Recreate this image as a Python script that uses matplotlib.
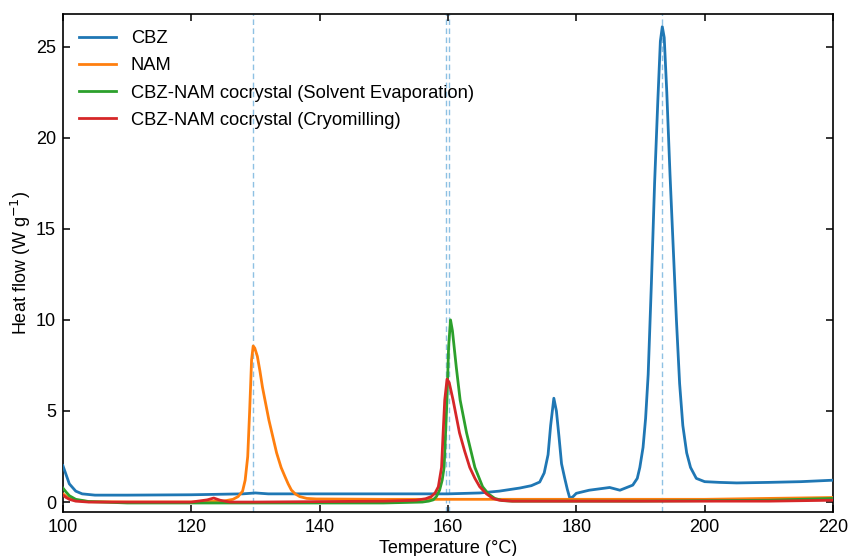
import matplotlib
matplotlib.use("Agg")
import matplotlib.pyplot as plt

plt.rcParams['font.family'] = ['Liberation Sans', 'DejaVu Sans']

# Temperature (°C) / heat flow (W/g) points
cbz_T = [100, 100.5, 101, 102, 103, 105, 110, 120, 128, 130, 132, 140, 150, 160, 165, 168, 171.2, 173,
         174.3, 175.0, 175.6, 176.0, 176.5, 176.9, 177.3, 177.7, 178.2, 178.6, 179.0, 179.5, 180.0,
         182, 185.2, 186.8, 188.8, 189.5, 189.9, 190.4, 190.8, 191.2, 191.7, 192.2, 192.7,
         193.1, 193.4, 193.7, 194.1, 194.6, 195.1, 195.6, 196.1, 196.6, 197.2, 197.8, 198.7, 200,
         202.3, 205, 210, 215, 220]
cbz_v = [2.0, 1.5, 1.0, 0.6, 0.45, 0.38, 0.38, 0.4, 0.45, 0.5, 0.45, 0.45, 0.45, 0.45, 0.5, 0.6, 0.77, 0.9,
         1.1, 1.6, 2.6, 4.2, 5.7, 5.0, 3.6, 2.1, 1.3, 0.7, 0.2, 0.3, 0.48,
         0.65, 0.8, 0.65, 0.93, 1.3, 1.9, 3.0, 4.6, 7.0, 12.0, 17.5, 22.0,
         25.3, 26.1, 25.5, 22.5, 18.0, 14.0, 10.0, 6.5, 4.2, 2.7, 1.9, 1.3, 1.12,
         1.08, 1.05, 1.08, 1.12, 1.2]

nam_T = [100, 101, 102, 104, 110, 120, 125, 126.5, 127.3, 128.0, 128.4, 128.8, 129.1, 129.4, 129.65,
         129.9, 130.3, 130.7, 131.1, 132.1, 133.3, 134.0, 134.6, 135.1, 135.6, 136.2, 136.9, 138, 139.5,
         150, 170, 200, 220]
nam_v = [0.45, 0.2, 0.1, 0.02, 0.0, 0.0, 0.05, 0.15, 0.3, 0.6, 1.2, 2.5, 5.0, 7.8, 8.57,
         8.45, 8.0, 7.2, 6.3, 4.5, 2.7, 1.9, 1.4, 1.0, 0.66, 0.45, 0.3, 0.2, 0.17,
         0.15, 0.15, 0.15, 0.25]

se_T = [100, 100.5, 101, 102, 104, 110, 130, 150, 156, 157.0, 157.7, 158.2, 158.7, 159.1, 159.4,
        159.85, 160.1, 160.4, 160.7, 161.3, 161.9, 162.9, 164.2, 165.4, 166.3, 167.3, 168.5, 170,
        190, 210, 220]
se_v = [0.77, 0.55, 0.35, 0.15, 0.03, -0.05, -0.05, -0.05, 0.0, 0.05, 0.12, 0.3, 0.66, 1.2, 1.9,
        5.6, 8.5, 10.0, 9.4, 7.4, 5.6, 3.8, 1.9, 0.84, 0.45, 0.2, 0.08, 0.05,
        0.05, 0.1, 0.2]

cryo_T = [100, 100.5, 101, 102, 104, 110, 120, 122.5, 123.5, 124.5, 126, 130, 150, 155, 156.5, 157.4,
          158.0, 158.5, 159.0, 159.25, 159.5, 159.86, 160.2, 160.8, 161.8, 162.6, 163.4, 164.2,
          164.95, 166, 167, 168, 170, 190, 210, 220]
cryo_v = [0.38, 0.25, 0.15, 0.05, 0.0, 0.0, 0.0, 0.12, 0.22, 0.1, 0.0, 0.0, 0.05, 0.1, 0.18, 0.3,
          0.5, 0.84, 1.9, 3.8, 5.6, 6.75, 6.55, 5.6, 3.8, 2.8, 1.9, 1.3,
          0.84, 0.45, 0.2, 0.1, 0.05, 0.05, 0.05, 0.1]

marker_T = [129.6, 159.7, 160.2, 193.3]

labels = ["CBZ", "NAM", "CBZ-NAM cocrystal (Solvent Evaporation)", "CBZ-NAM cocrystal (Cryomilling)"]
colors = ["#1f77b4", "#ff7f0e", "#2ca02c", "#d62728"]

fig = plt.figure(figsize=(8.5, 5.56), dpi=100)
ax = fig.add_axes([0.074, 0.079, 0.906, 0.896])

for t in marker_T:
    ax.axvline(t, color="#8ec1e3", lw=1.0, ls=(0, (4, 2.5)), zorder=1)

series = [(cbz_T, cbz_v), (nam_T, nam_v), (se_T, se_v), (cryo_T, cryo_v)]
for (T, v), lab, c in zip(series, labels, colors):
    ax.plot(T, v, color=c, lw=2.0, label=lab, zorder=3, solid_joinstyle="round")

ax.set_xlim(100, 220)
ax.set_ylim(-0.55, 26.8)
ax.set_xticks([100, 120, 140, 160, 180, 200, 220])
ax.set_yticks([0, 5, 10, 15, 20, 25])
ax.tick_params(direction="in", top=True, right=True, labelsize=13, length=5, width=1.1, pad=5)
for s in ax.spines.values():
    s.set_linewidth(1.2)
ax.set_xlabel("Temperature (°C)", fontsize=13, labelpad=3)
ax.set_ylabel("Heat flow (W g$^{-1}$)", fontsize=13, labelpad=2)
ax.legend(loc="upper left", frameon=False, fontsize=13.2, handlelength=2.0, borderaxespad=0.5,
          labelspacing=0.55, handletextpad=0.8)

fig.savefig("out.png", dpi=100)
